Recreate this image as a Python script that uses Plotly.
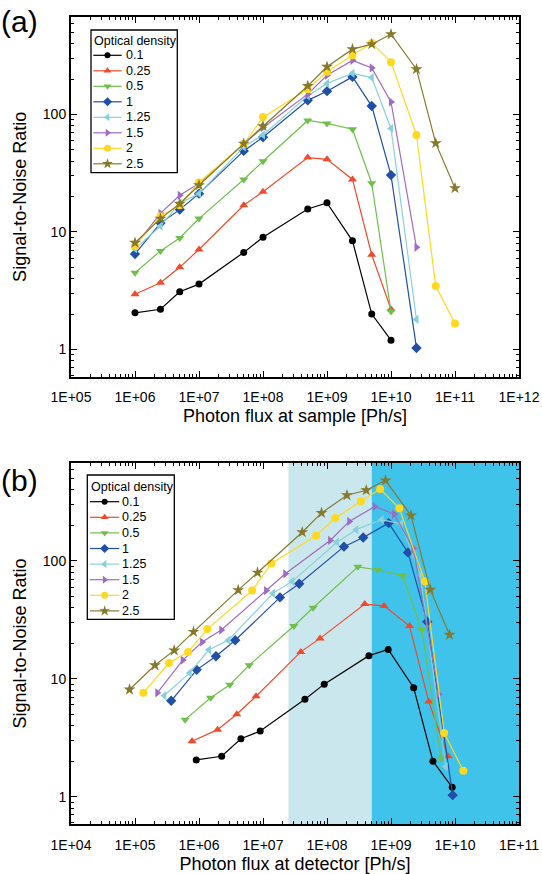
import plotly.graph_objects as go

# ---------------- data ----------------
od_labels = ["0.1", "0.25", "0.5", "1", "1.25", "1.5", "2", "2.5"]

flux_sample = [1e6, 2.5e6, 5e6, 1e7, 5e7, 1e8, 5e8, 1e9, 2.5e9, 5e9, 1e10, 2.5e10, 5e10, 1e11]

snr_od01 = [2.05, 2.2, 3.1, 3.6, 6.7, 9.0, 15.7, 17.7, 8.4, 2.0, 1.2]
snr_od025 = [2.95, 3.7, 5.0, 7.1, 16.9, 22, 43, 41.5, 28, 6.4, 2.2]
snr_od05 = [4.5, 6.9, 8.9, 13, 28, 40, 89, 84, 75, 26, 2.1]
snr_od1 = [6.5, 11.9, 15.5, 21.2, 49, 64, 132, 158, 209, 118, 30.5, 1.03]
snr_od125 = [7.2, 11.2, 17.6, 21.2, 53, 67, 144, 184, 224, 206, 76, 1.8]
snr_od15 = [7.6, 14.4, 20.5, 25.9, 56, 77.6, 149, 216, 289, 249, 128, 7.4]
snr_od2 = [7.6, 13.6, 16.9, 26.4, 56, 95, 164, 231, 320, 407, 279, 67, 3.46, 1.66]
snr_od25 = [8.1, 13.0, 17.4, 25.0, 56.5, 79.5, 175, 255, 360, 397, 482, 243, 57, 23.6]

flux_det_od01 = [9.05e5, 2.26e6, 4.52e6, 9.05e6, 4.52e7, 9.05e7, 4.52e8, 9.05e8, 2.26e9, 4.52e9, 9.05e9]
flux_det_od025 = [7.79e5, 1.95e6, 3.89e6, 7.79e6, 3.89e7, 7.79e7, 3.89e8, 7.79e8, 1.95e9, 3.89e9, 7.79e9]
flux_det_od05 = [6.07e5, 1.52e6, 3.03e6, 6.07e6, 3.03e7, 6.07e7, 3.03e8, 6.07e8, 1.52e9, 3.03e9, 6.07e9]
flux_det_od1 = [3.68e5, 9.2e5, 1.84e6, 3.68e6, 1.84e7, 3.68e7, 1.84e8, 3.68e8, 9.2e8, 1.84e9, 3.68e9, 9.2e9]
flux_det_od125 = [2.87e5, 7.16e5, 1.43e6, 2.87e6, 1.43e7, 2.87e7, 1.43e8, 2.87e8, 7.16e8, 1.43e9, 2.87e9, 7.16e9]
flux_det_od15 = [2.23e5, 5.58e5, 1.12e6, 2.23e6, 1.12e7, 2.23e7, 1.12e8, 2.23e8, 5.58e8, 1.12e9, 2.23e9, 5.58e9]
flux_det_od2 = [1.35e5, 3.38e5, 6.77e5, 1.35e6, 6.77e6, 1.35e7, 6.77e7, 1.35e8, 3.38e8, 6.77e8, 1.35e9, 3.38e9, 6.77e9, 1.35e10]
flux_det_od25 = [8.21e4, 2.05e5, 4.10e5, 8.21e5, 4.10e6, 8.21e6, 4.10e7, 8.21e7, 2.05e8, 4.10e8, 8.21e8, 2.05e9, 4.10e9, 8.21e9]

band_light = [2.5e7, 5.0e8]
band_dark = [5.0e8, 1e11]

x_ticks_top = [1e5, 1e6, 1e7, 1e8, 1e9, 1e10, 1e11, 1e12]
x_ticks_bot = [1e4, 1e5, 1e6, 1e7, 1e8, 1e9, 1e10, 1e11]
y_ticks = [1, 10, 100]
y_ticktext = ["1", "10", "100"]

snr_all = [snr_od01, snr_od025, snr_od05, snr_od1, snr_od125, snr_od15, snr_od2, snr_od25]
det_all = [flux_det_od01, flux_det_od025, flux_det_od05, flux_det_od1,
           flux_det_od125, flux_det_od15, flux_det_od2, flux_det_od25]

# ---------------- styles ----------------
colors = ["#000000", "#EE4B2B", "#6FBF4A", "#1F4FA6", "#88D1DA", "#9E6CC0", "#FFD820", "#857A2C"]
symbols = ["circle", "triangle-up", "triangle-down", "diamond", "triangle-left",
           "triangle-right", "circle", "star"]
msizes = [7, 8, 8, 8, 8, 8, 8, 9]
FONT = "Liberation Sans, Arial, sans-serif"

W, H = 542, 874
ML, MR, MT, MB = 71, 23, 17, 50
PLOT_H = H - MT - MB

def ypaper(py):
    return (H - MB - py) / PLOT_H

fig = go.Figure()

# ---------------- data traces ----------------
for i, lab in enumerate(od_labels):
    fig.add_trace(go.Scatter(
        x=flux_sample[:len(snr_all[i])], y=snr_all[i], mode="lines+markers",
        name=lab, showlegend=False,
        line=dict(color=colors[i], width=1.2),
        marker=dict(symbol=symbols[i], size=msizes[i], color=colors[i]),
        xaxis="x", yaxis="y"))
for i, lab in enumerate(od_labels):
    fig.add_trace(go.Scatter(
        x=det_all[i], y=snr_all[i], mode="lines+markers",
        name=lab, showlegend=False,
        line=dict(color=colors[i], width=1.2),
        marker=dict(symbol=symbols[i], size=msizes[i], color=colors[i]),
        xaxis="x2", yaxis="y2"))

# ---------------- bands (panel b) ----------------
fig.add_shape(type="rect", xref="x2", yref="y2 domain", x0=band_light[0], x1=band_light[1],
              y0=0, y1=1, fillcolor="#CBE7EE", line=dict(width=0), layer="below")
fig.add_shape(type="rect", xref="x2", yref="y2 domain", x0=band_dark[0], x1=band_dark[1],
              y0=0, y1=1, fillcolor="#3FC3EA", line=dict(width=0), layer="below")

# ---------------- custom legends (overlay axis in pixel units) ----------------
def add_legend(box, title_pos, line_x, text_x, y0, dy):
    fig.add_shape(type="rect", xref="x3", yref="y3", x0=box[0], x1=box[1], y0=box[2], y1=box[3],
                  line=dict(color="black", width=1.3), fillcolor="white", layer="below")
    fig.add_annotation(xref="x3", yref="y3", x=title_pos[0], y=title_pos[1], text="Optical density",
                       showarrow=False, xanchor="left", yanchor="middle",
                       font=dict(family=FONT, size=12.5, color="black"))
    for i, lab in enumerate(od_labels):
        yc = y0 + dy * i
        fig.add_trace(go.Scatter(x=[line_x[0], line_x[1]], y=[yc, yc], mode="lines",
                                 line=dict(color=colors[i], width=1.2), showlegend=False,
                                 hoverinfo="skip", xaxis="x3", yaxis="y3"))
        fig.add_trace(go.Scatter(x=[(line_x[0] + line_x[1]) / 2], y=[yc], mode="markers",
                                 marker=dict(symbol=symbols[i], size=msizes[i] - 1, color=colors[i]),
                                 showlegend=False, hoverinfo="skip", xaxis="x3", yaxis="y3"))
        fig.add_annotation(xref="x3", yref="y3", x=text_x, y=yc, text=lab, showarrow=False,
                           xanchor="left", yanchor="middle",
                           font=dict(family=FONT, size=12.5, color="black"))

add_legend((91, 177.3, 30, 172.7), (92, 40.7), (93.3, 121.7), 124, 55.3, 15.5)
add_legend((87.3, 174.3, 475, 619.3), (88.5, 486.5), (90, 119.3), 120, 501.7, 15.6)

# ---------------- panel labels ----------------
fig.add_annotation(xref="paper", yref="paper", x=-0.16, y=ypaper(21), text="(a)", showarrow=False,
                   xanchor="left", yanchor="middle", font=dict(family=FONT, size=30, color="black"))
fig.add_annotation(xref="paper", yref="paper", x=-0.16, y=ypaper(481), text="(b)", showarrow=False,
                   xanchor="left", yanchor="middle", font=dict(family=FONT, size=30, color="black"))

# ---------------- axes ----------------
def minor_vals(lo_exp, hi_exp):
    v = []
    for e in range(lo_exp, hi_exp):
        for m in range(2, 10):
            v.append(m * 10 ** e)
    return v

common = dict(showline=True, linecolor="black", linewidth=2, mirror="allticks",
              ticks="inside", ticklen=6, tickwidth=1.4, tickcolor="black",
              showgrid=False, zeroline=False, automargin=False,
              tickfont=dict(family=FONT, size=14, color="black"))

y_range = [-0.232, 2.83]
y_minor = [0.6, 0.7, 0.8, 0.9] + minor_vals(0, 2) + [200, 300, 400, 500, 600]

fig.update_layout(
    xaxis=dict(type="log", range=[5, 12], domain=[0, 1], anchor="y",
               tickmode="array", tickvals=x_ticks_top,
               ticktext=["1E+%02d" % k for k in range(5, 13)],
               ticklabelstandoff=6,
               minor=dict(tickmode="array", tickvals=minor_vals(5, 12), ticks="inside",
                          ticklen=3, tickwidth=1.1, tickcolor="black", showgrid=False),
               title=dict(text="Photon flux at sample [Ph/s]", standoff=6,
                          font=dict(family=FONT, size=18, color="black")),
               **common),
    yaxis=dict(type="log", range=y_range, domain=[ypaper(376.7), 1], anchor="x",
               tickmode="array", tickvals=y_ticks, ticktext=y_ticktext,
               minor=dict(tickmode="array", tickvals=y_minor, ticks="inside",
                          ticklen=3, tickwidth=1.1, tickcolor="black", showgrid=False),
               title=dict(text="Signal-to-Noise Ratio", standoff=12,
                          font=dict(family=FONT, size=18, color="black")),
               **common),
    xaxis2=dict(type="log", range=[4, 11], domain=[0, 1], anchor="y2",
                tickmode="array", tickvals=x_ticks_bot,
                ticktext=["1E+%02d" % k for k in range(4, 12)],
                ticklabelstandoff=7,
                minor=dict(tickmode="array", tickvals=minor_vals(4, 11), ticks="inside",
                           ticklen=3, tickwidth=1.1, tickcolor="black", showgrid=False),
                title=dict(text="Photon flux at detector [Ph/s]", standoff=11,
                           font=dict(family=FONT, size=18, color="black")),
                **common),
    yaxis2=dict(type="log", range=y_range, domain=[0, ypaper(463)], anchor="x2",
                tickmode="array", tickvals=y_ticks, ticktext=y_ticktext,
                minor=dict(tickmode="array", tickvals=y_minor, ticks="inside",
                           ticklen=3, tickwidth=1.1, tickcolor="black", showgrid=False),
                title=dict(text="Signal-to-Noise Ratio", standoff=12,
                           font=dict(family=FONT, size=18, color="black")),
                **common),
    xaxis3=dict(range=[ML, W - MR], domain=[0, 1], anchor="y3", visible=False, fixedrange=True),
    yaxis3=dict(range=[H - MB, MT], domain=[0, 1], anchor="x3", visible=False, fixedrange=True),
    width=W, height=H,
    margin=dict(l=ML, r=MR, t=MT, b=MB, pad=0),
    paper_bgcolor="white", plot_bgcolor="rgba(0,0,0,0)",
    font=dict(family=FONT, size=14, color="black"),
    showlegend=False,
)

fig.write_html("out.html")
